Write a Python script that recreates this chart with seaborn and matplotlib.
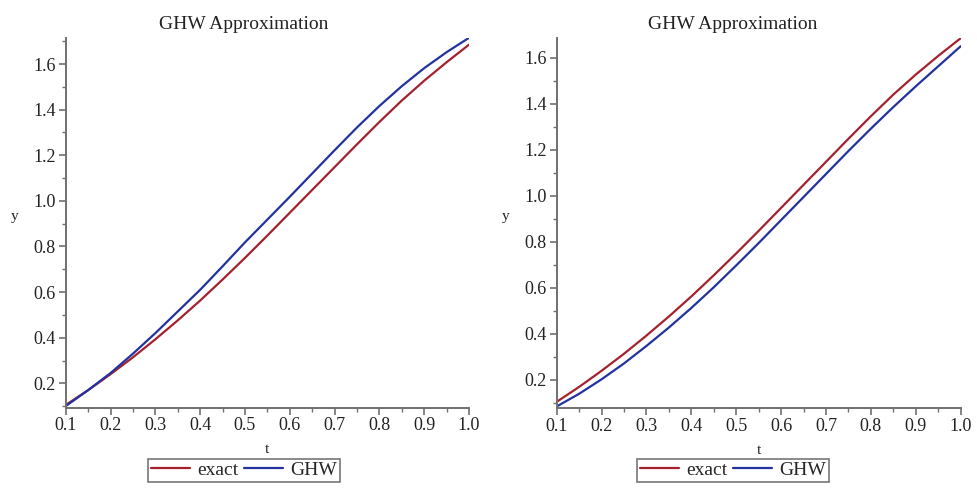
import numpy as np
import pandas as pd
import matplotlib
matplotlib.use("Agg")
import matplotlib.pyplot as plt
from matplotlib.ticker import MultipleLocator, FormatStrFormatter
import seaborn as sns

t = [0.10, 0.15, 0.20, 0.25, 0.30, 0.35, 0.40, 0.45, 0.50, 0.55,
     0.60, 0.65, 0.70, 0.75, 0.80, 0.85, 0.90, 0.95, 1.00]
exact = [0.105, 0.17, 0.24, 0.314, 0.393, 0.476, 0.563, 0.655, 0.75, 0.848,
         0.948, 1.048, 1.148, 1.248, 1.346, 1.44, 1.527, 1.608, 1.685]
ghw_left = [0.10, 0.17, 0.245, 0.33, 0.42, 0.515, 0.61, 0.713, 0.818, 0.918,
            1.018, 1.12, 1.222, 1.322, 1.416, 1.503, 1.582, 1.652, 1.715]
ghw_right = [0.085, 0.14, 0.203, 0.272, 0.348, 0.428, 0.513, 0.603, 0.698, 0.795,
             0.895, 0.995, 1.095, 1.195, 1.292, 1.386, 1.476, 1.563, 1.65]

title = "GHW Approximation"
series_names = ["exact", "GHW"]
colors = {"exact": "#a3222e", "GHW": "#2233a0"}

sns.set_style("white")
plt.rcParams["font.family"] = ["Liberation Serif", "DejaVu Serif"]

fig = plt.figure(figsize=(9.78, 4.88), dpi=100)
ax1 = fig.add_axes([0.0672, 0.1645, 0.4124, 0.7576])
ax2 = fig.add_axes([0.5692, 0.1633, 0.4131, 0.7594])

panels = [
    (ax1, ghw_left, (0.093, 1.714), 0.2495),
    (ax2, ghw_right, (0.077, 1.687), 0.7495),
]

for ax, ghw, ylim, cx in panels:
    df = pd.DataFrame({
        "t": t + t,
        "y": exact + ghw,
        "series": [series_names[0]] * len(t) + [series_names[1]] * len(t),
    })
    sns.lineplot(data=df, x="t", y="y", hue="series", palette=colors,
                 ax=ax, linewidth=1.6, legend=True, sort=False)
    ax.set_xlim(0.1, 1.0)
    ax.set_ylim(*ylim)
    ax.xaxis.set_major_locator(MultipleLocator(0.1))
    ax.xaxis.set_minor_locator(MultipleLocator(0.05))
    ax.yaxis.set_major_locator(MultipleLocator(0.2))
    ax.yaxis.set_minor_locator(MultipleLocator(0.1))
    ax.xaxis.set_major_formatter(FormatStrFormatter("%.1f"))
    ax.yaxis.set_major_formatter(FormatStrFormatter("%.1f"))
    for s in ["top", "right"]:
        ax.spines[s].set_visible(False)
    for s in ["left", "bottom"]:
        ax.spines[s].set_color("#707070")
        ax.spines[s].set_linewidth(1.4)
    ax.tick_params(axis="both", which="major", direction="out", length=5,
                   width=1.2, color="#707070", labelsize=13, pad=2,
                   labelcolor="#222222")
    ax.tick_params(axis="both", which="minor", direction="out", length=3,
                   width=1.0, color="#707070")
    ax.tick_params(bottom=True, left=True, which="both")
    ax.set_xlabel("t", fontsize=11, color="#222222")
    ax.set_ylabel("y", fontsize=11, color="#222222", rotation=0)
    ax.xaxis.set_label_coords(0.5, -0.095)
    ax.yaxis.set_label_coords(-0.126, 0.50)
    ax.set_title("")
    fig.text(cx, 0.95, title, ha="center", va="center", fontsize=14,
             color="#222222")
    handles, labels = ax.get_legend_handles_labels()
    leg = ax.legend(handles, labels, loc="upper center", ncol=2,
                    bbox_to_anchor=(cx, 0.06), bbox_transform=fig.transFigure,
                    fontsize=14, frameon=True, fancybox=False,
                    handlelength=2.0, handletextpad=0.4, columnspacing=0.25,
                    borderpad=0.15, borderaxespad=0.0)
    leg.get_frame().set_edgecolor("#555555")
    leg.get_frame().set_linewidth(1.2)
    for line in leg.get_lines():
        line.set_linewidth(1.6)

fig.savefig("out.png", dpi=100)
